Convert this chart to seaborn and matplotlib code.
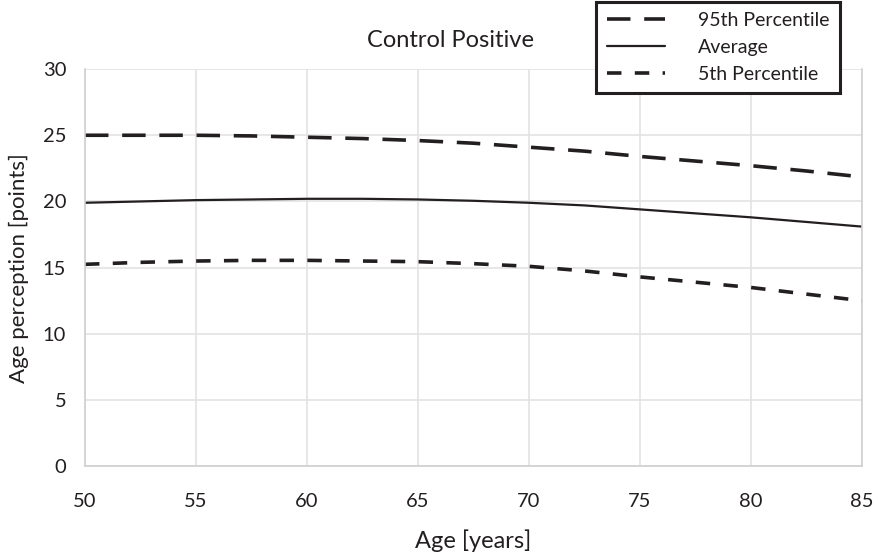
import numpy as np
import pandas as pd
import matplotlib
matplotlib.use('Agg')
import matplotlib.pyplot as plt
import seaborn as sns

## DADOS
age = [50, 52.5, 55, 57.5, 60, 62.5, 65, 67.5, 70, 72.5, 75, 77.5, 80, 82.5, 85]
p95 = [25.0, 25.0, 25.0, 24.95, 24.85, 24.75, 24.6, 24.4, 24.1, 23.8, 23.4, 23.05, 22.7, 22.3, 21.85]
avg = [19.9, 20.0, 20.1, 20.15, 20.2, 20.2, 20.15, 20.05, 19.9, 19.7, 19.4, 19.1, 18.8, 18.45, 18.1]
p5 = [15.25, 15.4, 15.5, 15.55, 15.55, 15.5, 15.45, 15.3, 15.1, 14.75, 14.3, 13.9, 13.5, 13.0, 12.5]
labels = ['95th Percentile', 'Average', '5th Percentile']

df = pd.DataFrame({'age': age, labels[0]: p95, labels[1]: avg, labels[2]: p5})
df_long = df.melt(id_vars='age', var_name='serie', value_name='valor')

sns.set_style('whitegrid')
plt.rcParams['font.family'] = ['Lato', 'DejaVu Sans']

fig, ax = plt.subplots(figsize=(8.76, 5.57), dpi=100)
fig.subplots_adjust(left=0.097, right=0.984, top=0.876, bottom=0.163)

estilos = {
    labels[0]: dict(lw=2.6, ls=(0, (6.5, 3.8))),
    labels[1]: dict(lw=1.6, ls='-'),
    labels[2]: dict(lw=2.6, ls=(0, (4.0, 3.7))),
}
cor = '#231f20'
for nome in labels:
    sub = df_long[df_long['serie'] == nome]
    sns.lineplot(data=sub, x='age', y='valor', color=cor, linewidth=estilos[nome]['lw'],
                 linestyle=estilos[nome]['ls'], label=nome, ax=ax)

ax.set_xlim(50, 85)
ax.set_ylim(0, 30)
ax.set_xticks(np.arange(50, 86, 5))
ax.set_yticks(np.arange(0, 31, 5))
ax.tick_params(axis='both', labelsize=14.5, colors=cor)
ax.tick_params(axis='y', pad=10)
ax.tick_params(axis='x', pad=16)
ax.grid(color='#e3e3e3', linewidth=1.2)
ax.spines['top'].set_visible(False)
for s in ['left', 'bottom', 'right']:
    ax.spines[s].set_color('#d0d0d0')
    ax.spines[s].set_linewidth(1.2)

ax.set_xlabel('Age [years]', fontsize=17, color=cor, labelpad=14)
ax.set_ylabel('Age perception [points]', fontsize=16, color=cor, labelpad=10)
fig.text(0.514, 0.928, 'Control Positive', fontsize=17, color=cor, ha='center', va='center')

leg = ax.legend(loc='upper right', bbox_to_anchor=(0.972, 1.17), fontsize=14, frameon=True,
                fancybox=False, handlelength=3.0, borderpad=0.55, labelspacing=0.5,
                handletextpad=1.7, borderaxespad=0, framealpha=1)
leg.get_frame().set_edgecolor(cor)
leg.get_frame().set_linewidth(2.2)
for t in leg.get_texts():
    t.set_color(cor)

plt.savefig('out.png', dpi=100)
